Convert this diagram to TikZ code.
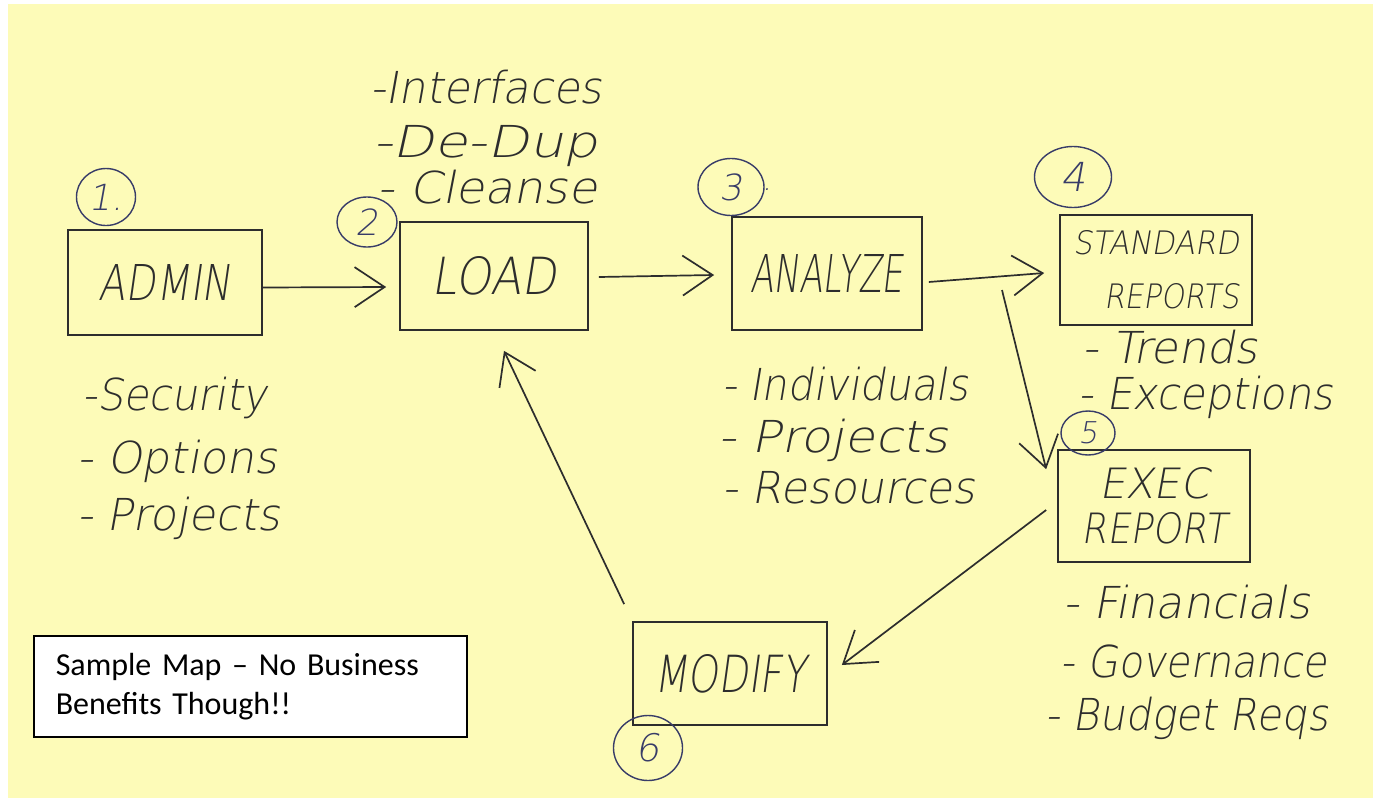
\documentclass[tikz,border=0pt]{standalone}
\usepackage{fontspec}
\usepackage{graphicx}
\usetikzlibrary{arrows.meta,shapes.geometric}
\newfontfamily\boxfont{Carlito}
\newfontfamily\handfont{DejaVuSans-ExtraLight.ttf}[FakeSlant=0.18]
\definecolor{paper}{RGB}{253,251,184}
\definecolor{pen}{RGB}{45,45,45}
\definecolor{ink}{RGB}{56,60,104}
% stretch a word to a given width, keeping its height
\newcommand\stretchto[2]{\resizebox{#1}{\height}{#2}}
% stretch a word to a given width and cap height
\newcommand\fitword[3]{\resizebox{#1}{#2}{#3}}
\begin{document}
\begin{tikzpicture}[x=1pt,y=-1pt,
  sketchbox/.style={draw=pen, line width=1.7pt, inner sep=0pt, text=pen,
    font=\handfont\fontsize{40}{40}\selectfont, align=center},
  num/.style={ellipse, draw=ink, line width=1.4pt, text=ink, inner sep=0pt,
    font=\handfont\fontsize{36}{36}\selectfont},
  item/.style={anchor=base west, inner sep=0pt, text=pen,
    font=\handfont\fontsize{44}{44}\selectfont},
  arr/.style={draw=pen, line width=1.7pt,
    -{Straight Barb[length=30pt,width=40pt,line width=1.7pt]}},
  note/.style={draw=black, fill=white, line width=1.5pt, anchor=north west,
    minimum width=433pt, minimum height=101pt, inner xsep=22pt, inner ysep=0pt,
    text width=389pt, align=left, font=\boxfont\fontsize{32}{39}\selectfont}]
\useasboundingbox (0,0) rectangle (1379,798);
\fill[white] (0,0) rectangle (1379,798);
\fill[paper] (8,4) rectangle (1373,798);

% process boxes
\node[sketchbox, minimum width=194pt, minimum height=105pt] (admin) at (165,282.5)
  {\fitword{132pt}{36pt}{ADMIN}};
\node[sketchbox, minimum width=188pt, minimum height=108pt] (load) at (494,276)
  {\fitword{125pt}{38pt}{LOAD}};
\node[sketchbox, minimum width=190pt, minimum height=113pt] (analyze) at (827,273.5)
  {\fitword{153pt}{38pt}{ANALYZE}};
\node[sketchbox, minimum width=192pt, minimum height=110pt, align=right] (stdrep) at (1156,270)
  {\fitword{166pt}{24pt}{STANDARD}\\[14pt]\fitword{135pt}{25pt}{REPORTS}};
\node[sketchbox, minimum width=192pt, minimum height=112pt] (exec) at (1154,506)
  {\fitword{110pt}{31pt}{EXEC}\\[5pt]\fitword{145pt}{31pt}{REPORT}};
\node[sketchbox, minimum width=194pt, minimum height=103pt] (modify) at (730,673.5)
  {\fitword{152pt}{38pt}{MODIFY}};

% step numbers
\node[num, minimum width=59pt, minimum height=57pt] (n1) at (106,197) {1.};
\node[num, minimum width=60pt, minimum height=50pt] (n2) at (367,222) {2};
\node[num, minimum width=66pt, minimum height=57pt] (n3) at (731,187) {3};
\node[text=ink, inner sep=0pt, font=\handfont\fontsize{30}{30}\selectfont] (n3dot) at (767,190) {.};
\node[num, minimum width=77pt, minimum height=61pt, font=\handfont\fontsize{40}{40}\selectfont]
  (n4) at (1073,177) {4};
\node[num, minimum width=54pt, minimum height=44pt,
  font=\handfont\fontsize{30}{30}\selectfont] (n5) at (1088,433) {5};
\node[num, minimum width=69pt, minimum height=65pt,
  font=\handfont\fontsize{38}{38}\selectfont] (n6) at (648,748) {6};

% notes beside the boxes
\node[item] (ifc) at (370,103) {\stretchto{232pt}{-Interfaces}};
\node[item] (dedup) at (373,157) {\stretchto{225pt}{-De-Dup}};
\node[item] (clean) at (377,203) {\stretchto{220pt}{- Cleanse}};

\node[item] (sec) at (82,410) {\stretchto{185pt}{-Security}};
\node[item] (opt) at (77,473) {\stretchto{200pt}{- Options}};
\node[item] (proj) at (77,530) {\stretchto{203pt}{- Projects}};

\node[item] (indiv) at (722,400) {\stretchto{246pt}{- Individuals}};
\node[item] (aproj) at (718,452) {\stretchto{230pt}{- Projects}};
\node[item] (res) at (722,503) {\stretchto{253pt}{- Resources}};

\node[item] (trend) at (1082,363) {\stretchto{176pt}{- Trends}};
\node[item] (excp) at (1078,409) {\stretchto{255pt}{- Exceptions}};

\node[item] (fin) at (1063,618) {\stretchto{247pt}{- Financials}};
\node[item] (gov) at (1060,677) {\stretchto{267pt}{- Governance}};
\node[item] (bud) at (1045,730) {\stretchto{283pt}{- Budget Reqs}};

% flow arrows
\coordinate (fork) at (1002,290);
\draw[arr] ([yshift=-5pt]admin.east) -- ([xshift=-13pt,yshift=-11pt]load.west);
\draw[arr] ([xshift=10pt,yshift=-1pt]load.east) -- ([xshift=-17pt,yshift=-1.5pt]analyze.west);
\draw[arr] ([xshift=6pt,yshift=-8.5pt]analyze.east) -- ([xshift=-15pt,yshift=-3pt]stdrep.west);
\draw[arr] (fork) -- ([xshift=-11pt,yshift=-20pt]exec.north west);
\draw[arr] ([xshift=-11pt,yshift=-4pt]exec.west) -- ([xshift=14pt,yshift=8.5pt]modify.east);
\draw[arr] ([xshift=-8pt,yshift=17pt]modify.north west) -- ([xshift=10pt,yshift=-20pt]load.south);

% caption box
\node[note] (caption) at (33,635) {Sample Map – No Business\\Benefits Though!!};
\end{tikzpicture}
\end{document}
